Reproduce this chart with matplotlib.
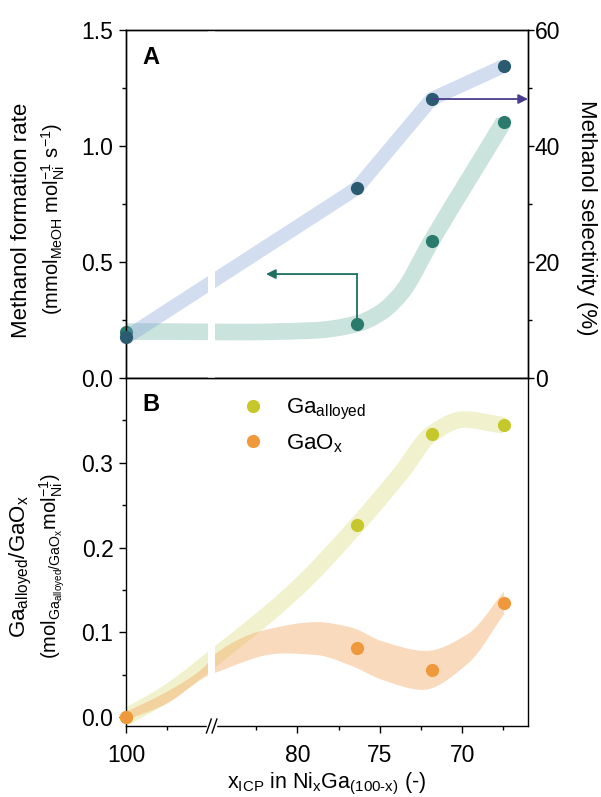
import numpy as np
import matplotlib
matplotlib.use('Agg')
import matplotlib.pyplot as plt

plt.rcParams['font.family'] = 'Liberation Sans'
plt.rcParams['mathtext.fontset'] = 'custom'
plt.rcParams['mathtext.rm'] = 'Liberation Sans'
plt.rcParams['mathtext.it'] = 'Liberation Sans:italic'
plt.rcParams['mathtext.bf'] = 'Liberation Sans:bold'

# Ni content (x_ICP) of the NixGa(100-x) samples
x_icp = [100, 76.4, 71.85, 67.46]
rate = [0.20, 0.233, 0.592, 1.105]          # mmol_MeOH / mol_Ni / s
selectivity = [7.0, 32.7, 48.1, 53.8]       # %
ga_alloyed = [0.0, 0.226, 0.334, 0.344]
ga_ox = [0.0, 0.082, 0.056, 0.135]

# guide-to-the-eye knots for the shaded bands
rate_guide_x = [100, 97.5, 83.5, 79.0, 76.4, 75.0, 73.7, 71.85, 67.46]
rate_guide_y = [0.20, 0.20, 0.198, 0.205, 0.233, 0.279, 0.365, 0.592, 1.105]
alloy_guide_x = [100, 97.5, 85.0, 80.0, 76.4, 73.7, 71.85, 69.9, 67.46]
alloy_guide_y = [0.0, 0.028, 0.071, 0.152, 0.226, 0.288, 0.334, 0.351, 0.344]
ox_upper_x = [100, 97.5, 95.2, 85.0, 81.9, 78.8, 76.8, 74.8, 72.2, 69.65, 67.46]
ox_upper_y = [0.006, 0.03, 0.060, 0.074, 0.103, 0.112, 0.106, 0.089, 0.078, 0.098, 0.148]
ox_lower_x = [100, 97.5, 95.2, 85.0, 80.9, 78.8, 76.8, 74.8, 72.4, 69.65, 67.46]
ox_lower_y = [-0.004, 0.016, 0.047, 0.052, 0.075, 0.073, 0.061, 0.0435, 0.032, 0.063, 0.121]

# broken x axis: compositions between GAP_LO and GAP_HI are squeezed out
GAP_LO, GAP_HI = 85.2, 94.8


def fwd(x):
	x = np.asarray(x, float)
	return np.where(x >= GAP_HI, x, np.where(x <= GAP_LO, x + (GAP_HI - GAP_LO), GAP_HI))


def inv(p):
	p = np.asarray(p, float)
	return np.where(p >= GAP_HI, p, p - (GAP_HI - GAP_LO))


def smooth(xk, yk, n=400):
	# monotone cubic (pchip) through the knots, on the broken-axis coordinate
	p = fwd(xk)
	y = np.asarray(yk, float)
	order = np.argsort(p)
	p, y = p[order], y[order]
	h = np.diff(p)
	d = np.diff(y) / h
	m = np.zeros_like(y)
	m[0], m[-1] = d[0], d[-1]
	for k in range(1, len(p) - 1):
		if d[k - 1] * d[k] > 0:
			w1 = 2 * h[k] + h[k - 1]
			w2 = h[k] + 2 * h[k - 1]
			m[k] = (w1 + w2) / (w1 / d[k - 1] + w2 / d[k])
	pp = np.linspace(p[0], p[-1], n)
	i = np.clip(np.searchsorted(p, pp) - 1, 0, len(p) - 2)
	hh = p[i + 1] - p[i]
	t = (pp - p[i]) / hh
	h00 = 2 * t**3 - 3 * t**2 + 1
	h10 = t**3 - 2 * t**2 + t
	h01 = -2 * t**3 + 3 * t**2
	h11 = t**3 - t**2
	yy = h00 * y[i] + h10 * hh * m[i] + h01 * y[i + 1] + h11 * hh * m[i + 1]
	return inv(pp), yy


W, H = 601, 797
fig = plt.figure(figsize=(W / 100, H / 100), dpi=100)
left, width = 126 / W, 402 / W
ax1 = fig.add_axes([left, 1 - 378 / H, width, 348 / H])
ax2 = fig.add_axes([left, 1 - 726 / H, width, 348 / H], sharex=ax1)
ax2.set_xscale('function', functions=(fwd, inv))
ax2.set_xlim(100, 66)
axr = ax1.twinx()

tick_size = 16.5
for ax in (ax1, ax2, axr):
	for s in ax.spines.values():
		s.set_linewidth(1.0)
	ax.tick_params(which='major', direction='out', length=5, width=1, labelsize=tick_size)
	ax.tick_params(which='minor', direction='out', length=3, width=1)

# ---- panel A ----
ax1.plot(*smooth(rate_guide_x, rate_guide_y), color='#5fa898', alpha=0.32, lw=12,
	solid_capstyle='butt', zorder=1)
ax1.plot(x_icp, rate, 'o', color='#2a7b6c', ms=9.5, mew=0, zorder=3, clip_on=False)
ax1.set_ylim(0, 1.5)
ax1.set_yticks([0, 0.5, 1.0, 1.5])
ax1.set_yticks([0.25, 0.75, 1.25], minor=True)
ax1.set_yticklabels(['0.0', '0.5', '1.0', '1.5'])
ax1.tick_params(axis='y', pad=4)
ax1.tick_params(axis='x', which='both', bottom=False, labelbottom=False)

# arrow pointing rate data to the left axis
arrow_y, arrow_tip = 0.448, 81.9
ax1.plot([x_icp[1], x_icp[1]], [rate[1], arrow_y], color='#1f6e60', lw=1.3, zorder=2)
ax1.annotate('', xy=(arrow_tip, arrow_y), xytext=(x_icp[1], arrow_y),
	arrowprops=dict(arrowstyle='-|>', color='#1f6e60', lw=1.3, mutation_scale=14,
		shrinkA=0, shrinkB=0))

axr.plot(x_icp, selectivity, color='#7f9fd6', alpha=0.35, lw=10, solid_joinstyle='round',
	solid_capstyle='butt', zorder=1)
axr.axvspan(95.0, 85.0, color='white', lw=0, zorder=2)
axr.plot(x_icp, selectivity, 'o', color='#2b5b70', ms=9.5, mew=0, zorder=3, clip_on=False)
axr.set_ylim(0, 60)
axr.set_yticks([0, 20, 40, 60])
axr.set_yticks([10, 30, 50], minor=True)
axr.tick_params(axis='y', which='major', length=4, pad=1)
axr.annotate('', xy=(66, selectivity[2]), xytext=(x_icp[2], selectivity[2]),
	arrowprops=dict(arrowstyle='-|>', color='#4a3c8c', lw=1.3, mutation_scale=14,
		shrinkA=0, shrinkB=0), zorder=4)
ax1.text(0.042, 0.922, 'A', transform=ax1.transAxes, fontsize=17, fontweight='bold',
	ha='left', va='center')

# ---- panel B ----
ax2.plot(*smooth(alloy_guide_x, alloy_guide_y), color='#c8cc3a', alpha=0.25, lw=12,
	solid_capstyle='butt', zorder=1)
ux, uy = smooth(ox_upper_x, ox_upper_y)
lx, ly = smooth(ox_lower_x, ox_lower_y)
ax2.fill(np.concatenate([ux, lx[::-1]]), np.concatenate([uy, ly[::-1]]),
	color='#f4a45a', alpha=0.4, lw=0, zorder=1)
ax2.axvspan(95.0, 85.0, color='white', lw=0, zorder=2)
ax2.plot(x_icp, ga_alloyed, 'o', color='#c5c72a', ms=9.5, mew=0, zorder=3, clip_on=False,
	label=r'Ga$_{\mathrm{alloyed}}$')
ax2.plot(x_icp, ga_ox, 'o', color='#f0993c', ms=9.5, mew=0, zorder=3, clip_on=False,
	label=r'GaO$_{\mathrm{x}}$')
ax2.set_ylim(-0.0106, 0.4)
ax2.set_yticks([0, 0.1, 0.2, 0.3])
ax2.set_yticks([0.05, 0.15, 0.25, 0.35], minor=True)
ax2.set_yticklabels(['0.0', '0.1', '0.2', '0.3'])
ax2.tick_params(axis='y', pad=4)
ax2.set_xticks([100, 80, 75, 70])
ax2.set_xticks([97.5, 82.5, 77.5, 72.5, 67.5], minor=True)
ax2.set_xticklabels(['100', '80', '75', '70'])
ax2.xaxis.set_minor_formatter(matplotlib.ticker.NullFormatter())
ax2.tick_params(axis='x', pad=8)
ax2.set_xlabel(r'x$_{\mathrm{ICP}}$ in Ni$_{\mathrm{x}}$Ga$_{\mathrm{(100\text{-}x)}}$ (-)',
	fontsize=15.5, labelpad=3)
ax2.text(0.04, 0.925, 'B', transform=ax2.transAxes, fontsize=17, fontweight='bold',
	ha='left', va='center')
ax2.legend(loc='upper left', bbox_to_anchor=(0.289, 0.945), frameon=False, fontsize=16,
	handlelength=1.0, handletextpad=0.95, labelspacing=0.45, borderpad=0, borderaxespad=0,
	numpoints=1)

# break marks on the x axis
xb = (fwd(100) - GAP_HI) / (fwd(100) - fwd(66))
dx, dy = 0.006, 0.02
ax2.plot([xb - 0.009, xb + 0.009], [0, 0], color='white', lw=2.5, transform=ax2.transAxes,
	clip_on=False, zorder=5)
for off in (-0.007, 0.007):
	ax2.plot([xb + off - dx, xb + off + dx], [-dy, dy], color='black', lw=1.0,
		transform=ax2.transAxes, clip_on=False, zorder=6)

# axis titles
fig.text(22 / W, 1 - 220 / H, 'Methanol formation rate', rotation=90, ha='center',
	va='center', fontsize=16)
fig.text(53 / W, 1 - 219 / H, r'(mmol$_{\mathrm{MeOH}}$ mol$_{\mathrm{Ni}}^{-1}$ s$^{-1}$)',
	rotation=90, ha='center', va='center', fontsize=14.5)
fig.text(586 / W, 1 - 218 / H, 'Methanol selectivity (%)', rotation=270, ha='center',
	va='center', fontsize=16)
fig.text(21 / W, 1 - 567 / H, r'Ga$_{\mathrm{alloyed}}$/GaO$_{\mathrm{x}}$', rotation=90,
	ha='center', va='center', fontsize=16)
fig.text(52 / W, 1 - 566 / H,
	r'(mol$_{\mathrm{Ga_{alloyed}/GaO_{x}}}$mol$_{\mathrm{Ni}}^{-1}$)',
	rotation=90, ha='center', va='center', fontsize=14.5)

fig.savefig('out.png', dpi=100)
